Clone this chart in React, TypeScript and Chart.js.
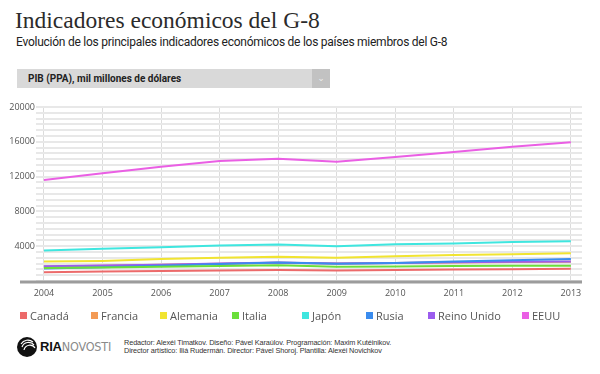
import React, { useEffect, useRef } from "react";
import { Chart, registerables } from "chart.js";

Chart.register(...registerables);

const years = [2004, 2005, 2006, 2007, 2008, 2009, 2010, 2011, 2012, 2013];
const canada = [1000, 1080, 1150, 1220, 1270, 1210, 1270, 1320, 1360, 1400];
const francia = [1670, 1760, 1860, 1990, 2090, 2000, 2060, 2120, 2170, 2220];
const alemania = [2230, 2310, 2520, 2660, 2800, 2660, 2840, 3000, 3070, 3190];
const italia = [1500, 1560, 1640, 1720, 1800, 1640, 1680, 1730, 1740, 1760];
const japon = [3520, 3700, 3880, 4080, 4190, 3980, 4230, 4300, 4480, 4570];
const rusia = [1450, 1580, 1760, 1960, 2130, 1980, 2080, 2230, 2380, 2540];
const reinoUnido = [1690, 1780, 1880, 2020, 2120, 2020, 2080, 2150, 2200, 2250];
const eeuu = [11620, 12380, 13140, 13790, 14060, 13710, 14250, 14820, 15430, 15960];

const seriesNames = ["Canadá", "Francia", "Alemania", "Italia", "Japón", "Rusia", "Reino Unido", "EEUU"];
const seriesColors = ["#ec6a6a", "#f39a55", "#f1e431", "#6bdf3a", "#3fe6df", "#3a8cee", "#9b5cee", "#ea5fe4"];
const seriesValues = [canada, francia, alemania, italia, japon, rusia, reinoUnido, eeuu];
const seriesOrder = [0, 10, 0, 0, 0, 0, 0, 0];

const yMajorStep = 4000;
const yMinorPerMajor = 6;
const yMax = 20000;

const legendLefts = [20, 91, 160, 232, 302, 366, 428, 522];

const baselinePlugin = {
  id: "baseline",
  beforeDatasetsDraw(chart: any) {
    const { ctx, chartArea } = chart;
    ctx.save();
    ctx.strokeStyle = "#9c9c9c";
    ctx.lineWidth = 3;
    ctx.beginPath();
    ctx.moveTo(20, chartArea.bottom + 1);
    ctx.lineTo(chartArea.right, chartArea.bottom + 1);
    ctx.stroke();
    ctx.restore();
  },
};

function LineChart() {
  const ref = useRef<HTMLCanvasElement | null>(null);
  useEffect(() => {
    if (!ref.current) return;
    const chart = new Chart(ref.current, {
      type: "line",
      data: {
        datasets: seriesNames.map((name, i) => ({
          label: name,
          data: years.map((yr, j) => ({ x: yr, y: seriesValues[i][j] })),
          borderColor: seriesColors[i],
          backgroundColor: seriesColors[i],
          borderWidth: 2,
          pointRadius: 0,
          tension: 0,
          order: seriesOrder[i],
        })),
      },
      options: {
        animation: false,
        responsive: true,
        maintainAspectRatio: false,
        layout: { padding: { top: 12, right: 18, left: 0, bottom: 0 } },
        plugins: { legend: { display: false }, tooltip: { enabled: false } },
        scales: {
          x: {
            type: "linear",
            min: 2003.864,
            max: 2013.19,
            afterBuildTicks: (s: any) => {
              s.ticks = years.map((v) => ({ value: v }));
            },
            afterFit: (s: any) => {
              s.height = 29;
            },
            border: { display: false },
            grid: { color: "#dcdcdc", lineWidth: 1, drawTicks: false },
            ticks: {
              autoSkip: false,
              maxRotation: 0,
              padding: 7,
              color: "#555",
              font: { family: "'Open Sans'", size: 9 },
              callback: (v: any) => String(v),
            },
          },
          y: {
            min: 0,
            max: yMax,
            afterBuildTicks: (s: any) => {
              const n = (yMax / yMajorStep) * yMinorPerMajor;
              const t = [];
              for (let i = 0; i <= n; i++) t.push({ value: (i * yMajorStep) / yMinorPerMajor });
              s.ticks = t;
            },
            afterFit: (s: any) => {
              s.width = 36;
            },
            border: { display: false },
            grid: { color: "#e8e8e8", lineWidth: 2, drawTicks: false },
            ticks: {
              autoSkip: false,
              padding: 1,
              color: "#555",
              font: { family: "'Open Sans'", size: 9 },
              callback: (v: any) => {
                const r = v / yMajorStep;
                if (v > 0 && Math.abs(r - Math.round(r)) < 1e-6) return String(Math.round(v));
                return "";
              },
            },
          },
        },
      },
      plugins: [baselinePlugin],
    });
    return () => chart.destroy();
  }, []);
  return (
    <div style={{ position: "absolute", left: 0, top: 95, width: 600, height: 215 }}>
      <canvas ref={ref} />
    </div>
  );
}

function Logo() {
  return (
    <svg width="20" height="20" viewBox="0 0 20 20" style={{ position: "absolute", left: 17, top: 337 }}>
      <circle cx="10" cy="10" r="10" fill="#111" />
      <path d="M4 7 A8 8 0 0 1 16 5" stroke="#fff" strokeWidth="1.2" fill="none" />
      <path d="M5 10 A7 7 0 0 1 17 8" stroke="#fff" strokeWidth="1.2" fill="none" />
      <path d="M7 13 A6 6 0 0 1 18 11" stroke="#fff" strokeWidth="1.2" fill="none" />
    </svg>
  );
}

export default function App() {
  return (
    <div
      style={{
        position: "absolute",
        left: 0,
        top: 0,
        width: 600,
        height: 374,
        background: "#fff",
        overflow: "hidden",
      }}
    >
      <div
        style={{
          position: "absolute",
          left: 15,
          top: 6,
          fontFamily: "'Liberation Serif'",
          fontSize: 23.5,
          color: "#2b2b2b",
          whiteSpace: "nowrap",
          lineHeight: "28px",
        }}
      >
        Indicadores económicos del G-8
      </div>
      <div
        style={{
          position: "absolute",
          left: 16,
          top: 35,
          fontFamily: "Roboto",
          fontSize: 12,
          letterSpacing: -0.25,
          color: "#222",
          whiteSpace: "nowrap",
          lineHeight: "14px",
        }}
      >
        Evolución de los principales indicadores económicos de los países miembros del G-8
      </div>
      <div
        style={{
          position: "absolute",
          left: 17,
          top: 69,
          width: 313,
          height: 19,
          background: "#d9d9d9",
        }}
      >
        <div
          style={{
            position: "absolute",
            left: 11,
            top: 0,
            lineHeight: "19px",
            fontFamily: "Roboto",
            fontWeight: "bold",
            fontSize: 10,
            color: "#222",
            whiteSpace: "nowrap",
          }}
        >
          PIB (PPA), mil millones de dólares
        </div>
        <div
          style={{
            position: "absolute",
            right: 0,
            top: 0,
            width: 18,
            height: 19,
            background: "#c2c2c2",
            color: "#eee",
            fontSize: 9,
            lineHeight: "19px",
            textAlign: "center",
            fontFamily: "'DejaVu Sans'",
          }}
        >
          ⌄
        </div>
      </div>
      <LineChart />
      {seriesNames.map((name, i) => (
        <div
          key={name}
          style={{
            position: "absolute",
            left: legendLefts[i],
            top: 308,
            height: 14,
            display: "flex",
            alignItems: "center",
            whiteSpace: "nowrap",
            fontFamily: "'Open Sans'",
            fontSize: 11,
            color: "#555",
          }}
        >
          <span style={{ display: "inline-block", width: 7, height: 7, background: seriesColors[i], marginRight: 3 }} />
          {name}
        </div>
      ))}
      <Logo />
      <div
        style={{
          position: "absolute",
          left: 40,
          top: 339,
          fontFamily: "'Liberation Sans'",
          fontSize: 13,
          lineHeight: "16px",
          letterSpacing: -0.2,
          whiteSpace: "nowrap",
        }}
      >
        <span style={{ fontWeight: "bold", color: "#111" }}>RIA</span>
        <span style={{ color: "#8a8a8a", fontFamily: "'DejaVu Sans Condensed', 'DejaVu Sans'", fontSize: 12.5 }}>NOVOSTI</span>
      </div>
      <div
        style={{
          position: "absolute",
          left: 124,
          top: 339,
          fontFamily: "'Liberation Sans'",
          fontSize: 7.3,
          lineHeight: "8px",
          color: "#333",
          whiteSpace: "nowrap",
          letterSpacing: -0.1,
        }}
      >
        <div>Redactor: Alexéi Timatkov. Diseño: Pável Karaúlov. Programación: Maxim Kutéinikov.</div>
        <div>Director artístico: Iliá Rudermán. Director: Pável Shoroj. Plantilla: Alexéi Novichkov</div>
      </div>
    </div>
  );
}
